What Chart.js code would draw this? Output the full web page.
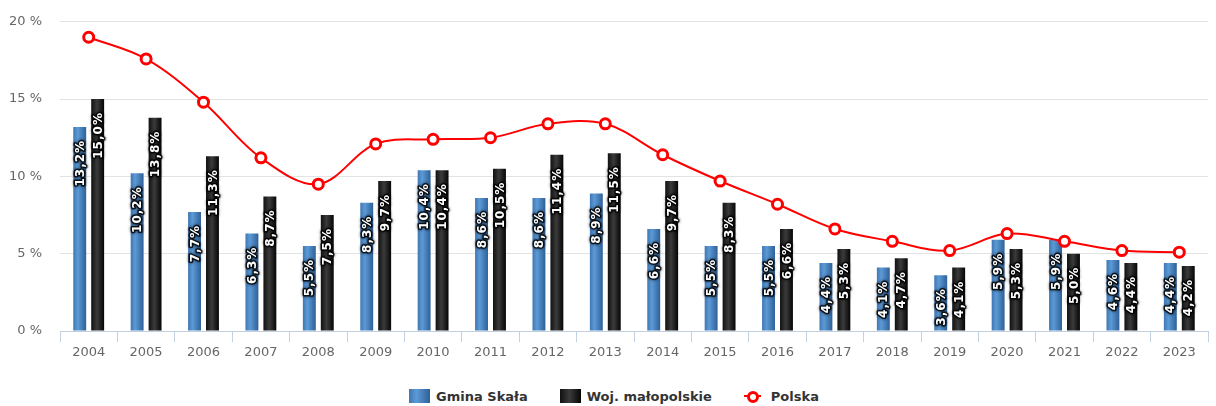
<!DOCTYPE html>
<html>
<head>
<meta charset="utf-8">
<script src="https://cdn.jsdelivr.net/npm/chart.js@4"></script>
<style>
  html, body { margin: 0; padding: 0; background: #fff; overflow: hidden; }
  #wrap { position: relative; width: 1216px; height: 406px; overflow: hidden; }
  #box { position: absolute; left: 0; top: -4px; width: 1216px; height: 376px; }
  #legend {
    position: absolute; left: 6px; top: 386px; width: 1216px; height: 20px;
    display: flex; justify-content: center; align-items: center;
    font: bold 13px "DejaVu Sans", Verdana, sans-serif; color: #333;
  }
  .item { display: flex; align-items: center; margin: 0 16px; }
  .sw { width: 21px; height: 14px; margin-right: 6px; }
  .blue { background: linear-gradient(to right, #3f77b3, #5c9ad6 35%, #2e6098); }
  .black { background: linear-gradient(to right, #111, #3b3b3b 45%, #050505); }
  .line { position: relative; width: 17px; height: 14px; margin-right: 10px; }
  .line::before { content: ""; position: absolute; left: 0; right: 0; top: 6px; height: 2px; background: #ff0000; }
  .line::after { content: ""; position: absolute; left: 3px; top: 2px; width: 6px; height: 6px;
    border: 3px solid #ff0000; border-radius: 50%; background: #fff; }
</style>
</head>
<body>
<div id="wrap">
  <div id="box"><canvas id="chart"></canvas></div>
  <div id="legend">
    <div class="item"><span class="sw blue"></span>Gmina Skała</div>
    <div class="item"><span class="sw black"></span>Woj. małopolskie</div>
    <div class="item"><span class="line"></span>Polska</div>
  </div>
</div>
<script>
const years = ['2004', '2005', '2006', '2007', '2008', '2009', '2010', '2011', '2012', '2013',
               '2014', '2015', '2016', '2017', '2018', '2019', '2020', '2021', '2022', '2023'];
const gminaSkala = [13.2, 10.2, 7.7, 6.3, 5.5, 8.3, 10.4, 8.6, 8.6, 8.9, 6.6, 5.5, 5.5, 4.4, 4.1, 3.6, 5.9, 5.9, 4.6, 4.4];
const wojMalopolskie = [15.0, 13.8, 11.3, 8.7, 7.5, 9.7, 10.4, 10.5, 11.4, 11.5, 9.7, 8.3, 6.6, 5.3, 4.7, 4.1, 5.3, 5.0, 4.4, 4.2];
const polska = [19.0, 17.6, 14.8, 11.2, 9.5, 12.1, 12.4, 12.5, 13.4, 13.4, 11.4, 9.7, 8.2, 6.6, 5.8, 5.2, 6.3, 5.8, 5.2, 5.1];
const yTicks = [0, 5, 10, 15, 20];

const CAT_PCT = 0.625;
const BAR_PCT = 0.72;
const FONT = '"DejaVu Sans", Verdana, sans-serif';

// horizontal gradient across each bar, worked out from the x scale
function barGradient(stops, fallback) {
    return function(ctx) {
        const chart = ctx.chart;
        const xs = chart.scales.x;
        if (!xs || ctx.dataIndex === undefined || !chart.chartArea) return fallback;
        const catW = xs.width / years.length;
        const slot = catW * CAT_PCT / 2;
        const center = xs.getPixelForValue(ctx.dataIndex) + (ctx.datasetIndex === 0 ? -slot / 2 : slot / 2);
        const half = slot * BAR_PCT / 2;
        const g = chart.ctx.createLinearGradient(center - half, 0, center + half, 0);
        stops.forEach(s => g.addColorStop(s[0], s[1]));
        return g;
    };
}

const barLabels = {
    id: 'barLabels',
    afterDatasetDraw(chart, args) {
        const meta = args.meta;
        if (meta.type !== 'bar') return;
        const ctx = chart.ctx;
        const data = chart.data.datasets[args.index].data;
        ctx.save();
        ctx.font = 'bold 12px ' + FONT;
        if ('letterSpacing' in ctx) ctx.letterSpacing = '1px';
        ctx.textAlign = 'right';
        ctx.textBaseline = 'middle';
        meta.data.forEach((bar, i) => {
            const txt = data[i].toFixed(1).replace('.', ',') + '%';
            ctx.save();
            ctx.translate(bar.x + 1, bar.y + 13);
            ctx.rotate(-Math.PI / 2);
            ctx.shadowColor = 'rgba(0,0,0,0.9)';
            ctx.shadowBlur = 3;
            ctx.lineJoin = 'round';
            ctx.lineWidth = 3;
            ctx.strokeStyle = 'rgba(0,0,0,0.75)';
            ctx.strokeText(txt, 0, 0);
            ctx.shadowBlur = 0;
            ctx.fillStyle = '#fff';
            ctx.fillText(txt, 0, 0);
            ctx.restore();
        });
        ctx.restore();
    }
};

new Chart(document.getElementById('chart'), {
    type: 'bar',
    data: {
        labels: years,
        datasets: [{
            label: 'Gmina Skała',
            data: gminaSkala,
            backgroundColor: barGradient([[0, '#3f77b3'], [0.35, '#5c9ad6'], [1, '#2e6098']], '#4a86c5'),
            categoryPercentage: CAT_PCT,
            barPercentage: BAR_PCT,
            order: 1
        }, {
            label: 'Woj. małopolskie',
            data: wojMalopolskie,
            backgroundColor: barGradient([[0, '#111111'], [0.45, '#3b3b3b'], [1, '#050505']], '#1a1a1a'),
            categoryPercentage: CAT_PCT,
            barPercentage: BAR_PCT,
            order: 1
        }, {
            type: 'line',
            label: 'Polska',
            data: polska,
            borderColor: '#ff0000',
            borderWidth: 2,
            tension: 0.35,
            pointRadius: 5,
            pointBorderWidth: 3,
            pointBackgroundColor: '#ffffff',
            pointBorderColor: '#ff0000',
            order: 0
        }]
    },
    options: {
        responsive: true,
        maintainAspectRatio: false,
        animation: false,
        layout: { padding: { top: 8, right: 4, left: 0, bottom: 0 } },
        plugins: {
            legend: { display: false },
            tooltip: { enabled: false }
        },
        scales: {
            x: {
                afterFit: scale => { scale.height = 41; },
                grid: {
                    offset: true,
                    drawOnChartArea: false,
                    drawTicks: true,
                    tickLength: 11,
                    tickColor: '#c0d0e0'
                },
                border: { display: true, color: '#c0d0e0', width: 1 },
                ticks: {
                    color: '#666666',
                    font: { family: FONT, size: 13 },
                    padding: 3,
                    maxRotation: 0,
                    autoSkip: false
                }
            },
            y: {
                min: 0,
                max: 20,
                afterFit: scale => { scale.width = 60; },
                afterBuildTicks: scale => { scale.ticks = yTicks.map(v => ({ value: v })); },
                grid: {
                    color: ctx => ctx.tick && ctx.tick.value === 0 ? 'rgba(0,0,0,0)' : '#e3e3e3',
                    drawTicks: false
                },
                border: { display: false },
                ticks: {
                    color: '#666666',
                    font: { family: FONT, size: 13 },
                    padding: 18,
                    callback: v => v + ' %'
                }
            }
        }
    },
    plugins: [barLabels]
});
</script>
</body>
</html>
